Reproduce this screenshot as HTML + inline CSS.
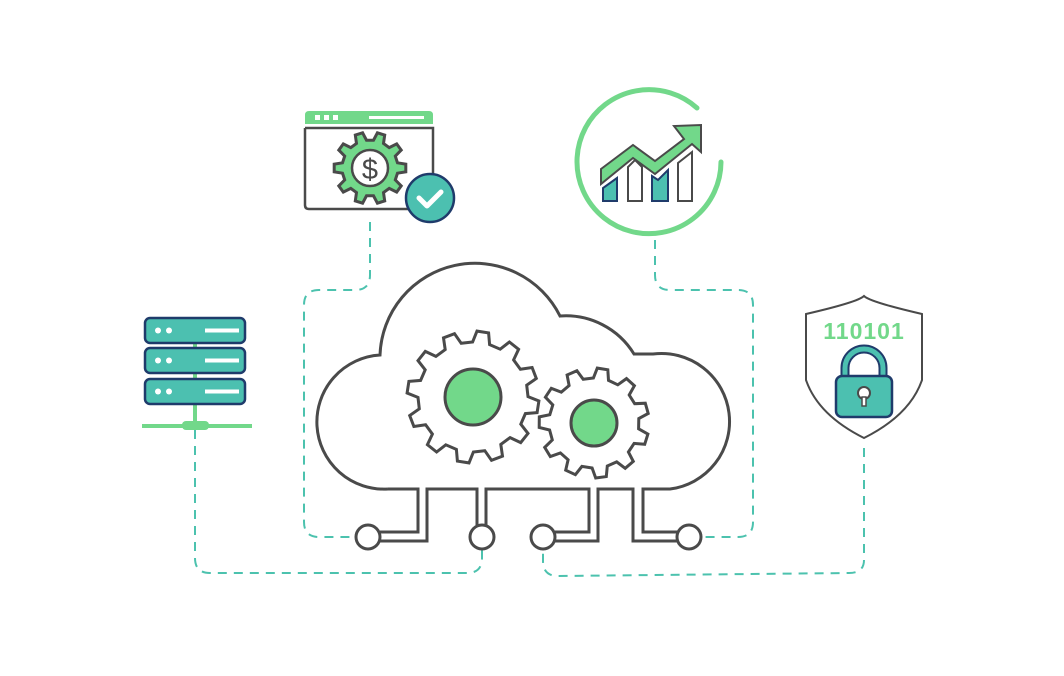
<!DOCTYPE html>
<html><head><meta charset="utf-8"><style>
html,body{margin:0;padding:0;background:#fff}
svg{display:block}
</style></head><body>
<svg id="s" width="1064" height="676" viewBox="0 0 1064 676" xmlns="http://www.w3.org/2000/svg">
<g fill="none" stroke="#4cc2ae" stroke-width="2" stroke-dasharray="9,7">
<path d="M370,222 V275 Q370,290 355,290 H319 Q304,290 304,305 V522 Q304,537 319,537 H356"/>
<path d="M655,240 V275 Q655,290 670,290 H738 Q753,290 753,305 V522 Q753,537 738,537 H701"/>
<path d="M195,430 V558 Q195,573 210,573 H467 Q482,573 482,558 V549"/>
<path d="M864,448 V560 Q864,573 849,573 L558,576 Q543,576 543,561 V549"/>
</g>
<!-- cloud -->
<g fill="none" stroke="#4a4a4a" stroke-width="3" stroke-linejoin="miter">
<path d="M388,489 A67,67 0 0 1 380,355 A95,95 0 0 1 560,316 A80,80 0 0 1 634,354 L653,354 A68,68 0 0 1 670,489 L643,489 V532 H678"/>
<path d="M678,541 H633 V489 H598 V541 H555"/>
<path d="M555,532 H589 V489 H486 V525"/>
<path d="M477,525 V489 H427 V541 H380"/>
<path d="M380,532 H418 V489 H388"/>
</g>
<g fill="#fff" stroke="#4a4a4a" stroke-width="3">
<circle cx="368" cy="537" r="12"/>
<circle cx="482" cy="537" r="12"/>
<circle cx="543" cy="537" r="12"/>
<circle cx="689" cy="537" r="12"/>
</g>
<g id="gears"></g>
<circle cx="473" cy="397" r="28" fill="#72d88a" stroke="#4a4a4a" stroke-width="3"/>
<circle cx="594" cy="423" r="23" fill="#72d88a" stroke="#4a4a4a" stroke-width="3"/>
<!-- server -->
<line x1="195" y1="340" x2="195" y2="426" stroke="#72d88a" stroke-width="4"/>
<line x1="142" y1="426" x2="252" y2="426" stroke="#72d88a" stroke-width="4"/>
<rect x="182" y="421" width="27" height="9" rx="4" fill="#72d88a"/>
<g fill="#4cc0b0" stroke="#1f3b6b" stroke-width="2.5">
<rect x="145" y="318" width="100" height="25" rx="5"/>
<rect x="145" y="348" width="100" height="25" rx="5"/>
<rect x="145" y="379" width="100" height="25" rx="5"/>
</g>
<g fill="#fff">
<circle cx="158" cy="330.5" r="3"/><circle cx="169" cy="330.5" r="3"/><rect x="205" y="328.5" width="34" height="4"/>
<circle cx="158" cy="360.5" r="3"/><circle cx="169" cy="360.5" r="3"/><rect x="205" y="358.5" width="34" height="4"/>
<circle cx="158" cy="391.5" r="3"/><circle cx="169" cy="391.5" r="3"/><rect x="205" y="389.5" width="34" height="4"/>
</g>
<!-- doc -->
<path d="M305,124 V115 Q305,111 309,111 H429 Q433,111 433,115 V124 Z" fill="#72d88a"/>
<g fill="#fff"><rect x="315" y="115" width="5" height="5"/><rect x="324" y="115" width="5" height="5"/><rect x="333" y="115" width="5" height="5"/><rect x="369" y="116" width="55" height="3"/></g>
<path d="M305,128 H433 V195 M305,128 V205 Q305,209 309,209 H408" fill="none" stroke="#4a4a4a" stroke-width="2.5"/>
<g id="g3"></g>
<circle cx="370" cy="168" r="18" fill="#fff" stroke="#4a4a4a" stroke-width="2.5"/>
<text x="370" y="179" text-anchor="middle" font-family="Liberation Sans, sans-serif" font-size="29" fill="#4a4a4a">$</text>
<circle cx="430" cy="198" r="24" fill="#4cc0b0" stroke="#1f3b6b" stroke-width="2.5"/>
<path d="M419,198 L427,206 L441,192" fill="none" stroke="#fff" stroke-width="5" stroke-linecap="round" stroke-linejoin="round"/>
<!-- chart -->
<path d="M697,108 A72,72 0 1 0 721,162" fill="none" stroke="#72d88a" stroke-width="5" stroke-linecap="round"/>
<g stroke-width="2" stroke-linejoin="miter">
<polygon points="603,201 603,188 617,178 617,201" fill="#4cc0b0" stroke="#1f3b6b"/>
<polygon points="628,201 628,167 635,160 642,167 642,201" fill="#fff" stroke="#4a4a4a"/>
<polygon points="652,201 652,176 658,180 668,170 668,201" fill="#4cc0b0" stroke="#1f3b6b"/>
<polygon points="678,201 678,163 692,152 692,201" fill="#fff" stroke="#4a4a4a"/>
<polygon points="601,169 633,145 655,161 684,139 674,126 701,125 701,152 692,144 655,174 633,158 601,184" fill="#72d88a" stroke="#4a4a4a"/>
</g>
<!-- shield -->
<path d="M864,296 Q870,302 922,314 V380 Q910,415 864,438 Q818,415 806,380 V314 Q858,302 864,296 Z" fill="#fff" stroke="#4a4a4a" stroke-width="2"/>
<text x="864" y="339" text-anchor="middle" font-family="Liberation Sans, sans-serif" font-weight="bold" font-size="23" letter-spacing="1" fill="#72d88a">110101</text>
<path d="M845,378 V368 A19,19 0 0 1 883,368 V378" fill="none" stroke="#1f3b6b" stroke-width="9"/>
<path d="M845,378 V368 A19,19 0 0 1 883,368 V378" fill="none" stroke="#4cc0b0" stroke-width="5"/>
<rect x="836" y="376" width="56" height="41" rx="6" fill="#4cc0b0" stroke="#1f3b6b" stroke-width="2.5"/>
<circle cx="864" cy="393" r="6" fill="#fff" stroke="#4a4a4a" stroke-width="2"/>
<rect x="862" y="397" width="4" height="9" fill="#fff" stroke="#4a4a4a" stroke-width="1.5"/>
</svg>
<script>
function gear(cx,cy,ro,ri,n,rot){
 var p=[],st=2*Math.PI/n;
 for(var i=0;i<n;i++){
  var a=rot+i*st;
  var pts=[[a-st*0.3,ri],[a-st*0.17,ro],[a+st*0.17,ro],[a+st*0.3,ri]];
  pts.forEach(function(q){p.push((cx+q[1]*Math.cos(q[0])).toFixed(1)+','+(cy+q[1]*Math.sin(q[0])).toFixed(1));});
 }
 return p.join(' ');
}
var ns='http://www.w3.org/2000/svg';
function add(id,pts,fill){var g=document.getElementById(id);var e=document.createElementNS(ns,'polygon');e.setAttribute('points',pts);e.setAttribute('fill',fill);e.setAttribute('stroke','#4a4a4a');e.setAttribute('stroke-width','3');e.setAttribute('stroke-linejoin','miter');g.appendChild(e);}
add('gears',gear(473,397,66,55,12,0.15),'#fff');
add('gears',gear(594,423,55,45,11,0.3),'#fff');
add('g3',gear(370,168,36,28,10,0.0),'#72d88a');
</script>
</body></html>
